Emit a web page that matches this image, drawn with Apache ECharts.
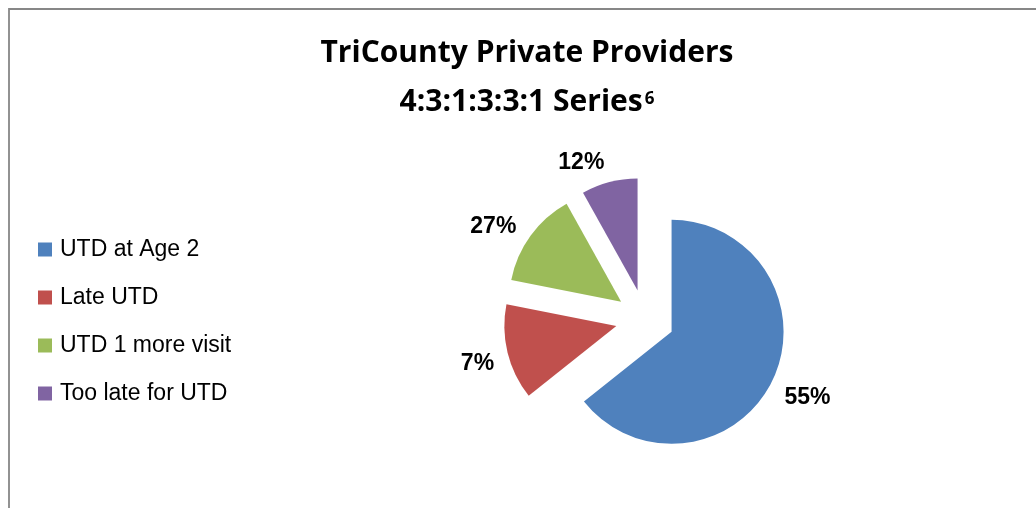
<!DOCTYPE html>
<html><head><meta charset="utf-8">
<script src="https://cdn.jsdelivr.net/npm/echarts@6/dist/echarts.min.js"></script>
<style>html,body{margin:0;padding:0;background:#fff}#c{width:1036px;height:508px}</style>
</head><body><div id="c"></div>
<script>
// Data
const categories = ['UTD at Age 2', 'Late UTD', 'UTD 1 more visit', 'Too late for UTD'];
const sliceValues = [64.3, 13.8, 13.8, 8.1];          // slice sizes as drawn
const labelTexts = ['55%', '7%', '27%', '12%'];        // data labels as printed
const colors = ['#4F81BD', '#C0504D', '#9BBB59', '#8064A2'];
const titleLines = ['TriCounty Private Providers', '4:3:1:3:3:1 Series'];
const titleSup = '6';

const chart = echarts.init(document.getElementById('c'), null, { renderer: 'canvas' });
chart.setOption({
  animation: false,
  color: colors,
  title: {
    text: '{a|' + titleLines[0] + '}\n{a|' + titleLines[1] + '}{s|' + titleSup + '}',
    left: 527, top: 29, textAlign: 'center', padding: 0,
    textStyle: {
      rich: {
        a: { fontFamily: 'Open Sans', fontWeight: 'bold', fontSize: 30, lineHeight: 49, color: '#000' },
        s: { fontFamily: 'Open Sans', fontWeight: 'bold', fontSize: 17, color: '#000', padding: [0, 0, 6, 2] }
      }
    }
  },
  legend: {
    orient: 'vertical', left: 38, top: 236, padding: 0,
    itemWidth: 14, itemHeight: 14, itemGap: 21, icon: 'rect',
    selectedMode: false,
    textStyle: { fontFamily: 'Liberation Sans', fontSize: 23, lineHeight: 22, color: '#000', padding: [5, 0, 0, 3] },
    data: categories
  },
  graphic: [{
    type: 'rect', silent: true, z: -1,
    shape: { x: 9, y: 9, width: 1200, height: 700 },
    style: { fill: 'none', stroke: '#878787', lineWidth: 1.8 }
  }],
  series: [{
    type: 'pie',
    center: [645, 319], radius: 112,
    startAngle: 90, clockwise: true,
    selectedMode: 'multiple', selectedOffset: 29.5,
    avoidLabelOverlap: false,
    itemStyle: { borderWidth: 0 },
    select: { itemStyle: { borderWidth: 0 } },
    emphasis: { scale: false },
    label: {
      show: true, position: 'outside',
      formatter: p => labelTexts[p.dataIndex],
      fontFamily: 'Liberation Sans', fontWeight: 'bold', fontSize: 23, color: '#000',
      distanceToLabelLine: 0
    },
    labelLine: { show: false, length: 20, length2: 0 },
    labelLayout: p => ({ dx: [-6, 6, 2, 0][p.dataIndex], dy: [9, 6, 3, 0][p.dataIndex] }),
    data: categories.map((n, i) => ({ name: n, value: sliceValues[i], selected: true }))
  }]
});
</script>
</body></html>
